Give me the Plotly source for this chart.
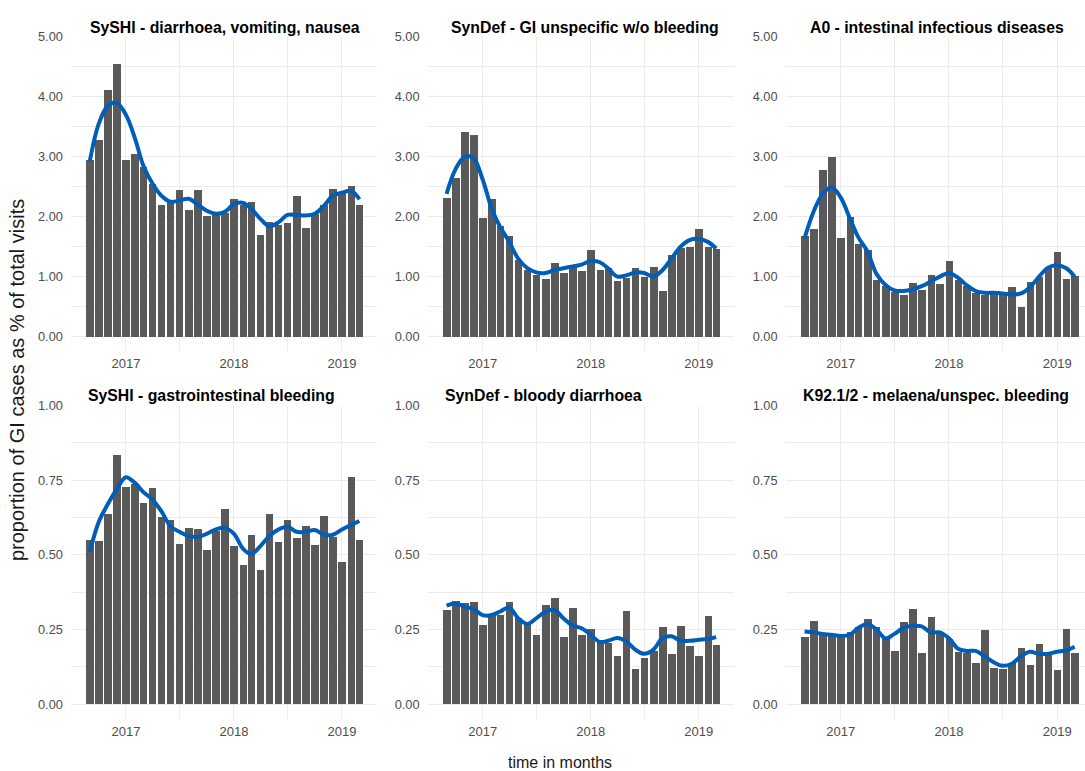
import plotly.graph_objects as go

# ---------------- data ----------------
months = ["2016-09-01", "2016-10-01", "2016-11-01", "2016-12-01",
          "2017-01-01", "2017-02-01", "2017-03-01", "2017-04-01", "2017-05-01", "2017-06-01",
          "2017-07-01", "2017-08-01", "2017-09-01", "2017-10-01", "2017-11-01", "2017-12-01",
          "2018-01-01", "2018-02-01", "2018-03-01", "2018-04-01", "2018-05-01", "2018-06-01",
          "2018-07-01", "2018-08-01", "2018-09-01", "2018-10-01", "2018-11-01", "2018-12-01",
          "2019-01-01", "2019-02-01", "2019-03-01"]

titles = ["SySHI - diarrhoea, vomiting, nausea",
          "SynDef - GI unspecific w/o bleeding",
          "A0 - intestinal infectious diseases",
          "SySHI - gastrointestinal bleeding",
          "SynDef - bloody diarrhoea",
          "K92.1/2 - melaena/unspec. bleeding"]

syshi_dvn = [2.94, 3.28, 4.12, 4.55, 2.94, 3.05, 2.83, 2.55, 2.19, 2.25, 2.45, 2.11, 2.45, 2.01, 2.05, 2.07,
             2.29, 2.20, 2.25, 1.69, 1.92, 1.87, 1.90, 2.35, 1.81, 2.05, 2.20, 2.47, 2.40, 2.51, 2.20]
syshi_dvn_smooth = [2.93, 3.55, 3.85, 3.90, 3.70, 3.30, 2.85, 2.55, 2.35, 2.25, 2.27, 2.30, 2.20, 2.10, 2.05, 2.08,
                    2.21, 2.23, 2.13, 1.96, 1.84, 1.91, 2.03, 2.03, 2.02, 2.05, 2.18, 2.35, 2.40, 2.43, 2.29]

syndef_gi = [2.32, 2.65, 3.41, 3.36, 1.98, 2.30, 1.84, 1.67, 1.27, 1.11, 1.03, 0.96, 1.23, 1.06, 1.20, 1.09,
             1.45, 1.11, 1.14, 0.92, 0.98, 1.14, 1.00, 1.16, 0.76, 1.36, 1.47, 1.49, 1.79, 1.49, 1.46]
syndef_gi_smooth = [2.38, 2.79, 3.00, 2.98, 2.62, 2.13, 1.83, 1.58, 1.30, 1.14, 1.07, 1.06, 1.11, 1.14, 1.17, 1.20,
                    1.26, 1.24, 1.14, 1.00, 1.02, 1.07, 1.06, 1.00, 1.11, 1.30, 1.50, 1.61, 1.63, 1.58, 1.47]

a0_inf = [1.68, 1.80, 2.78, 2.99, 1.65, 2.00, 1.55, 1.44, 0.95, 0.84, 0.75, 0.70, 0.89, 0.77, 1.02, 0.88,
          1.26, 0.95, 0.84, 0.73, 0.70, 0.73, 0.70, 0.82, 0.50, 0.91, 1.00, 1.14, 1.41, 0.96, 1.01]
a0_inf_smooth = [1.64, 2.08, 2.38, 2.49, 2.32, 1.97, 1.66, 1.42, 1.05, 0.86, 0.77, 0.76, 0.79, 0.84, 0.92, 1.00,
                 1.06, 0.98, 0.86, 0.76, 0.73, 0.73, 0.72, 0.70, 0.72, 0.82, 1.00, 1.15, 1.19, 1.14, 1.00]

syshi_gib = [0.552, 0.548, 0.638, 0.836, 0.728, 0.740, 0.676, 0.724, 0.628, 0.618, 0.538, 0.592, 0.589, 0.516,
             0.580, 0.654, 0.530, 0.469, 0.567, 0.450, 0.638, 0.545, 0.618, 0.557, 0.597, 0.534, 0.632, 0.560,
             0.478, 0.763, 0.552]
syshi_gib_smooth = [0.51, 0.61, 0.67, 0.72, 0.76, 0.74, 0.71, 0.685, 0.645, 0.595, 0.577, 0.563, 0.56, 0.57,
                    0.585, 0.59, 0.57, 0.52, 0.503, 0.53, 0.563, 0.585, 0.594, 0.577, 0.577, 0.583, 0.567,
                    0.567, 0.585, 0.60, 0.613]

syndef_bd = [0.316, 0.348, 0.340, 0.345, 0.265, 0.300, 0.300, 0.343, 0.290, 0.265, 0.233, 0.335, 0.356, 0.225,
             0.324, 0.233, 0.254, 0.205, 0.205, 0.164, 0.313, 0.119, 0.157, 0.180, 0.259, 0.170, 0.262, 0.197,
             0.164, 0.295, 0.200]
syndef_bd_smooth = [0.330, 0.337, 0.326, 0.318, 0.298, 0.298, 0.310, 0.323, 0.287, 0.268, 0.287, 0.309, 0.315,
                    0.287, 0.263, 0.254, 0.232, 0.208, 0.212, 0.221, 0.210, 0.182, 0.168, 0.182, 0.221, 0.227,
                    0.212, 0.212, 0.215, 0.218, 0.224]

k92_mel = [0.225, 0.281, 0.238, 0.232, 0.227, 0.243, 0.260, 0.287, 0.259, 0.221, 0.179, 0.277, 0.320, 0.171,
           0.292, 0.238, 0.221, 0.177, 0.171, 0.138, 0.248, 0.122, 0.118, 0.138, 0.190, 0.133, 0.203, 0.166,
           0.114, 0.252, 0.171]
k92_mel_smooth = [0.243, 0.240, 0.235, 0.232, 0.228, 0.232, 0.255, 0.268, 0.250, 0.220, 0.235, 0.255, 0.262,
                  0.260, 0.240, 0.240, 0.220, 0.185, 0.178, 0.178, 0.160, 0.140, 0.128, 0.135, 0.160, 0.175,
                  0.168, 0.168, 0.175, 0.180, 0.192]

series = [(syshi_dvn, syshi_dvn_smooth), (syndef_gi, syndef_gi_smooth), (a0_inf, a0_inf_smooth),
          (syshi_gib, syshi_gib_smooth), (syndef_bd, syndef_bd_smooth), (k92_mel, k92_mel_smooth)]

# ---------------- layout geometry (pixels) ----------------
W, H = 1085, 771
FONT = "Liberation Sans, Arial, sans-serif"
BAR_COLOR = "#595959"
LINE_COLOR = "#005EB8"
GRID = "#EBEBEB"

x_dom_px = [(70.9, 376.9), (427.6, 733.6), (785.6, 1085.0)]
x_ranges = [["2016-06-29", "2019-04-29"], ["2016-06-29", "2019-04-29"], ["2016-06-29", "2019-04-05"]]
y_dom_px = [(29.3, 347.1), (401.7, 718.4)]
y_ranges = [[-0.25, 5.0], [-0.05, 1.0]]
y_dticks = [1.0, 0.25]
title_cx = [225, 584.7, 937, 211.7, 543.3, 936.2]
title_cy = [20, 391.5]

bar_width_ms = 25.2 * 86400000

fig = go.Figure()
layout = {}
annotations = []
for i, (vals, smooth) in enumerate(series):
    r, c = divmod(i, 3)
    n = i + 1
    xa = "x" if n == 1 else f"x{n}"
    ya = "y" if n == 1 else f"y{n}"
    fig.add_trace(go.Bar(x=months, y=vals, xaxis=xa, yaxis=ya, width=bar_width_ms,
                         marker=dict(color=BAR_COLOR, line=dict(width=0)), showlegend=False,
                         hoverinfo="x+y"))
    fig.add_trace(go.Scatter(x=months, y=smooth, xaxis=xa, yaxis=ya, mode="lines",
                             line=dict(color=LINE_COLOR, width=4, shape="spline", smoothing=1.0),
                             showlegend=False))
    x0, x1 = x_dom_px[c]
    y0, y1 = y_dom_px[r]
    layout[f"xaxis{'' if n == 1 else n}"] = dict(
        domain=[x0 / W, x1 / W], range=x_ranges[c], type="date", anchor=ya,
        tick0="2017-01-01", dtick="M12", tickformat="%Y",
        showgrid=True, gridcolor=GRID, gridwidth=1.1, zeroline=False, showline=False, ticks="",
        ticklabelstandoff=3,
        minor=dict(showgrid=True, gridcolor=GRID, gridwidth=0.6, tick0="2016-07-01", dtick="M6"),
        tickfont=dict(family=FONT, size=13, color="#4D4D4D"), fixedrange=True)
    layout[f"yaxis{'' if n == 1 else n}"] = dict(
        domain=[1 - y1 / H, 1 - y0 / H], range=y_ranges[r], anchor=xa,
        tick0=0, dtick=y_dticks[r], tickformat=".2f",
        showgrid=True, gridcolor=GRID, gridwidth=1.1, zeroline=False, showline=False, ticks="",
        ticklabelstandoff=7,
        minor=dict(showgrid=True, gridcolor=GRID, gridwidth=0.6, dtick=y_dticks[r] / 2),
        tickfont=dict(family=FONT, size=12.8, color="#4D4D4D"), fixedrange=True)
    annotations.append(dict(text=f"<b>{titles[i]}</b>", x=title_cx[i] / W, y=1 - title_cy[r] / H,
                            xref="paper", yref="paper", xanchor="center", yanchor="middle",
                            showarrow=False, font=dict(family=FONT, size=15.8, color="#000000")))

annotations.append(dict(text="proportion of GI cases as % of total visits", x=17 / W, y=1 - 376 / H,
                        xref="paper", yref="paper", xanchor="center", yanchor="middle", textangle=-90,
                        showarrow=False, font=dict(family=FONT, size=20, color="#1A1A1A")))
annotations.append(dict(text="time in months", x=560 / W, y=1 - 762 / H,
                        xref="paper", yref="paper", xanchor="center", yanchor="middle",
                        showarrow=False, font=dict(family=FONT, size=16, color="#1A1A1A")))

fig.update_layout(width=W, height=H, margin=dict(l=0, r=0, t=0, b=0, pad=0),
                  paper_bgcolor="white", plot_bgcolor="white", bargap=0,
                  annotations=annotations, showlegend=False, **layout)

fig.write_html("out.html", config={"displayModeBar": False})
